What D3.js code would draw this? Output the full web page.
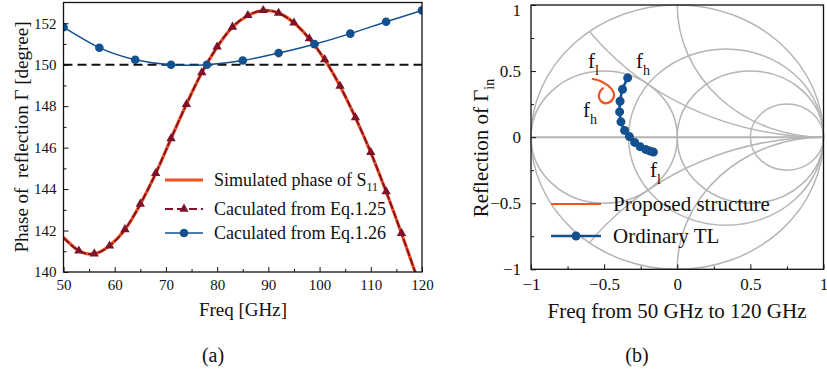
<!DOCTYPE html>
<html>
<head>
<meta charset="utf-8">
<script src="https://cdn.jsdelivr.net/npm/d3@7/dist/d3.min.js"></script>
<style>
  html, body { margin: 0; padding: 0; background: #fff; }
  svg { display: block; }
  text { font-family: "Liberation Serif", "DejaVu Serif", serif; fill: #111; }
</style>
</head>
<body>
<svg id="fig" width="827" height="372"></svg>
<script>
// ---------- (a) phase of reflection ----------
const simFreq  = [50,53,56,59,62,65,68,71,74,77,80,83,86,89,92,95,98,101,104,107,110,113,116,119,120];
const simPhase = [141.67,141.03,140.88,141.27,142.05,143.27,144.75,146.44,148.09,149.61,150.85,151.81,152.37,152.61,152.49,152.02,151.25,150.24,148.96,147.45,145.76,143.87,141.86,139.75,139.0];
const eq125Freq  = [50,53,56,59,62,65,68,71,74,77,80,83,86,89,92,95,98,101,104,107,110,113,116,119,120];
const eq125Phase = [141.65,141.02,140.88,141.26,142.05,143.28,144.76,146.44,148.09,149.62,150.86,151.82,152.38,152.62,152.49,152.02,151.26,150.25,148.97,147.45,145.77,143.88,141.87,139.76,139.0];
const eq126Freq  = [50,57,64,71,78,85,92,99,106,113,120];
const eq126Phase = [151.81,150.82,150.24,150.0,150.0,150.2,150.56,150.99,151.5,152.07,152.62];
const refPhase = 150;
const phaseTicks = [140,142,144,146,148,150,152];
const freqTicks = [50,60,70,80,90,100,110,120];
const legendA = ["Simulated phase of S", "Caculated from Eq.1.25", "Caculated from Eq.1.26"];

// ---------- (b) reflection on the Smith chart ----------
const propRe = [-0.578,-0.535,-0.494,-0.462,-0.440,-0.432,-0.440,-0.460,-0.488,-0.515,-0.532,-0.535,-0.525,-0.508];
const propIm = [0.440,0.428,0.405,0.380,0.350,0.318,0.290,0.266,0.256,0.266,0.290,0.320,0.350,0.370];
const tlRe = [-0.339,-0.374,-0.391,-0.394,-0.385,-0.360,-0.327,-0.291,-0.254,-0.216,-0.189,-0.163];
const tlIm = [0.449,0.362,0.272,0.191,0.116,0.051,0.004,-0.040,-0.072,-0.093,-0.104,-0.113];
const resistances = [0.5, 1, 3];
const reactances = [0.5, 1, -0.5, -1];
const conductances = [1];
const gammaTicks = [-1,-0.5,0,0.5,1];
const legendB = ["Proposed structure", "Ordinary TL"];

const C_ORANGE = "#f4511e", C_DRED = "#7d1228", C_BLUE = "#12508f", C_GRID = "#b5b5b5";
const fmt = v => (v < 0 ? "\u2212" : "") + Math.abs(v);

const svg = d3.select("#fig");

// ================= panel (a) =================
const xA = d3.scaleLinear().domain([50,120]).range([63.5,422]);
const yA = d3.scaleLinear().domain([140,153]).range([272,2.5]);
const gA = svg.append("g");

gA.append("clipPath").attr("id","clipA").append("rect")
  .attr("x",xA(50)).attr("y",yA(153)).attr("width",xA(120)-xA(50)).attr("height",yA(140)-yA(153));
const plotA = gA.append("g").attr("clip-path","url(#clipA)");

plotA.append("line").attr("x1",xA(50)).attr("x2",xA(120)).attr("y1",yA(refPhase)).attr("y2",yA(refPhase))
  .attr("stroke","#111").attr("stroke-width",2).attr("stroke-dasharray","9,5");

const lineA = d3.line().curve(d3.curveNatural).x(d=>xA(d[0])).y(d=>yA(d[1]));
const simPts = simFreq.map((f,i)=>[f,simPhase[i]]);
const e125Pts = eq125Freq.map((f,i)=>[f,eq125Phase[i]]);
const e126Pts = eq126Freq.map((f,i)=>[f,eq126Phase[i]]);

plotA.append("path").attr("d",lineA(simPts)).attr("fill","none").attr("stroke",C_ORANGE).attr("stroke-width",3.2);
plotA.append("path").attr("d",lineA(e125Pts)).attr("fill","none").attr("stroke",C_DRED).attr("stroke-width",1.8).attr("stroke-dasharray","8,2");
plotA.append("path").attr("d",lineA(e126Pts)).attr("fill","none").attr("stroke",C_BLUE).attr("stroke-width",1.5);

const tri = d3.symbol().type(d3.symbolTriangle).size(38);
plotA.selectAll(".tri").data(e125Pts.slice(1,-1)).join("path")
  .attr("d",tri).attr("transform",d=>`translate(${xA(d[0])},${yA(d[1])})`).attr("fill",C_DRED);
plotA.selectAll(".dot").data(e126Pts).join("circle")
  .attr("cx",d=>xA(d[0])).attr("cy",d=>yA(d[1])).attr("r",4.3).attr("fill",C_BLUE);

// axes (a)
function styleAxis(g, size) {
  g.select(".domain").remove();
  g.selectAll(".tick line").attr("stroke","#111").attr("stroke-width",1);
  g.selectAll("text").style("font-size", size + "px").attr("fill","#111");
}
const axA_b = gA.append("g").attr("transform",`translate(0,${yA(140)})`)
  .call(d3.axisBottom(xA).tickValues(freqTicks).tickSize(-5).tickPadding(7).tickFormat(fmt));
styleAxis(axA_b, 15);
const axA_bm = gA.append("g").attr("transform",`translate(0,${yA(140)})`)
  .call(d3.axisBottom(xA).tickValues(freqTicks.slice(0,-1).map(v=>v+5)).tickSize(-3).tickFormat(""));
styleAxis(axA_bm, 15);
const axA_l = gA.append("g").attr("transform",`translate(${xA(50)},0)`)
  .call(d3.axisLeft(yA).tickValues(phaseTicks).tickSize(-5).tickPadding(7).tickFormat(fmt));
styleAxis(axA_l, 15);
const axA_lm = gA.append("g").attr("transform",`translate(${xA(50)},0)`)
  .call(d3.axisLeft(yA).tickValues(d3.range(141,153,2)).tickSize(-3).tickFormat(""));
styleAxis(axA_lm, 15);

gA.append("rect").attr("x",xA(50)).attr("y",yA(153)).attr("width",xA(120)-xA(50)).attr("height",yA(140)-yA(153))
  .attr("fill","none").attr("stroke","#111").attr("stroke-width",1.3);

gA.append("text").attr("x",243).attr("y",316).attr("text-anchor","middle").style("font-size","19px").text("Freq [GHz]");
gA.append("text").attr("transform","translate(28,137) rotate(-90)").attr("text-anchor","middle")
  .style("font-size","19px").style("white-space","pre").text("Phase of  reflection \u0393 [degree]");

// legend (a)
const legA = gA.append("g");
const rowsA = [180, 209, 233];
legA.append("line").attr("x1",165).attr("x2",203).attr("y1",rowsA[0]).attr("y2",rowsA[0]).attr("stroke",C_ORANGE).attr("stroke-width",3.2);
legA.append("line").attr("x1",165).attr("x2",203).attr("y1",rowsA[1]).attr("y2",rowsA[1]).attr("stroke",C_DRED).attr("stroke-width",1.8).attr("stroke-dasharray","8,4");
legA.append("path").attr("d",tri).attr("transform",`translate(184,${rowsA[1]})`).attr("fill",C_DRED);
legA.append("line").attr("x1",165).attr("x2",203).attr("y1",rowsA[2]).attr("y2",rowsA[2]).attr("stroke",C_BLUE).attr("stroke-width",1.5);
legA.append("circle").attr("cx",184).attr("cy",rowsA[2]).attr("r",4.3).attr("fill",C_BLUE);
const t0 = legA.append("text").attr("x",214).attr("y",rowsA[0]+6).style("font-size","18px");
t0.append("tspan").text(legendA[0]);
t0.append("tspan").attr("dy",5).style("font-size","12px").text("11");
legA.append("text").attr("x",214).attr("y",rowsA[1]+6).style("font-size","18px").text(legendA[1]);
legA.append("text").attr("x",214).attr("y",rowsA[2]+6).style("font-size","18px").text(legendA[2]);

svg.append("text").attr("x",213).attr("y",362).attr("text-anchor","middle").style("font-size","20px").text("(a)");

// ================= panel (b) =================
const xB = d3.scaleLinear().domain([-1,1]).range([531,823.5]);
const yB = d3.scaleLinear().domain([-1,1]).range([269.3,5]);
const gB = svg.append("g");

// circle in the reflection plane -> ellipse in pixels
function ell(cx, cy, r) {
  return `M${xB(cx+r)},${yB(cy)} A${xB(r)-xB(0)},${yB(0)-yB(r)} 0 1 0 ${xB(cx-r)},${yB(cy)} A${xB(r)-xB(0)},${yB(0)-yB(r)} 0 1 0 ${xB(cx+r)},${yB(cy)} Z`;
}
gB.append("clipPath").attr("id","clipUnit").append("path").attr("d", ell(0,0,1));
const grid = gB.append("g").attr("fill","none").attr("stroke",C_GRID).attr("stroke-width",1.5);
grid.append("path").attr("d", ell(0,0,1));
grid.append("line").attr("x1",xB(-1)).attr("x2",xB(1)).attr("y1",yB(0)).attr("y2",yB(0)).attr("stroke-width",2);
resistances.forEach(r => grid.append("path").attr("d", ell(r/(1+r), 0, 1/(1+r))));
conductances.forEach(g => grid.append("path").attr("d", ell(-g/(1+g), 0, 1/(1+g))));
const gridClip = grid.append("g").attr("clip-path","url(#clipUnit)");
reactances.forEach(x => gridClip.append("path").attr("d", ell(1, 1/x, Math.abs(1/x))));

const lineB = d3.line().curve(d3.curveCatmullRom).x(d=>xB(d[0])).y(d=>yB(d[1]));
const propPts = propRe.map((r,i)=>[r,propIm[i]]);
const tlPts = tlRe.map((r,i)=>[r,tlIm[i]]);
gB.append("path").attr("d",lineB(propPts)).attr("fill","none").attr("stroke",C_ORANGE).attr("stroke-width",2.2).attr("stroke-linecap","round");
gB.append("path").attr("d",lineB(tlPts)).attr("fill","none").attr("stroke",C_BLUE).attr("stroke-width",2.6);
gB.selectAll(".tl").data(tlPts).join("circle").attr("cx",d=>xB(d[0])).attr("cy",d=>yB(d[1])).attr("r",4.5).attr("fill",C_BLUE);

// axes (b)
const axB_b = gB.append("g").attr("transform",`translate(0,${yB(-1)})`)
  .call(d3.axisBottom(xB).tickValues(gammaTicks).tickSize(-5).tickPadding(9).tickFormat(fmt));
styleAxis(axB_b, 17);
const axB_bm = gB.append("g").attr("transform",`translate(0,${yB(-1)})`)
  .call(d3.axisBottom(xB).tickValues([-0.75,-0.25,0.25,0.75]).tickSize(-3).tickFormat(""));
styleAxis(axB_bm, 17);
const axB_l = gB.append("g").attr("transform",`translate(${xB(-1)},0)`)
  .call(d3.axisLeft(yB).tickValues(gammaTicks).tickSize(-5).tickPadding(10).tickFormat(fmt));
styleAxis(axB_l, 17);
// keep the top label inside the canvas
axB_l.selectAll(".tick text").filter(d => d === 1).attr("dy","0.6em");
const axB_lm = gB.append("g").attr("transform",`translate(${xB(-1)},0)`)
  .call(d3.axisLeft(yB).tickValues([-0.75,-0.25,0.25,0.75]).tickSize(-3).tickFormat(""));
styleAxis(axB_lm, 17);
gB.append("rect").attr("x",xB(-1)).attr("y",yB(1)).attr("width",xB(1)-xB(-1)).attr("height",yB(-1)-yB(1))
  .attr("fill","none").attr("stroke","#111").attr("stroke-width",1.3);

gB.append("text").attr("x",677).attr("y",318).attr("text-anchor","middle").style("font-size","21px").text("Freq from 50 GHz to 120 GHz");
const yl = gB.append("text").attr("transform","translate(488,148) rotate(-90)").attr("text-anchor","middle").style("font-size","21px");
yl.append("tspan").text("Reflection of \u0393");
yl.append("tspan").attr("dy",6).style("font-size","14px").text("in");

// frequency end labels
function fLabel(x, y, sub) {
  const t = gB.append("text").attr("x",x).attr("y",y).style("font-size","21px");
  t.append("tspan").text("f");
  t.append("tspan").attr("dy",7).style("font-size","14px").text(sub);
}
fLabel(588, 68, "l");
fLabel(636, 68, "h");
fLabel(583, 117, "h");
fLabel(650, 177, "l");

// legend (b)
gB.append("line").attr("x1",551).attr("x2",601).attr("y1",204).attr("y2",204).attr("stroke",C_ORANGE).attr("stroke-width",2.2);
gB.append("text").attr("x",613).attr("y",211).style("font-size","21px").text(legendB[0]);
gB.append("line").attr("x1",551).attr("x2",601).attr("y1",236).attr("y2",236).attr("stroke",C_BLUE).attr("stroke-width",2.6);
gB.append("circle").attr("cx",576).attr("cy",236).attr("r",4.5).attr("fill",C_BLUE);
gB.append("text").attr("x",613).attr("y",243).style("font-size","21px").text(legendB[1]);

svg.append("text").attr("x",637).attr("y",362).attr("text-anchor","middle").style("font-size","20px").text("(b)");
</script>
</body>
</html>
